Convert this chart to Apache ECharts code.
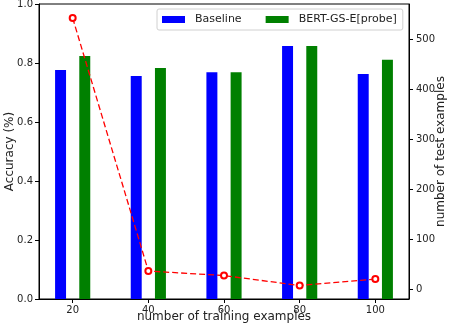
<!DOCTYPE html>
<html><head><meta charset="utf-8">
<script src="https://cdn.jsdelivr.net/npm/echarts@6/dist/echarts.min.js"></script>
<style>html,body{margin:0;padding:0;background:#fff}#c{width:450px;height:330px}</style>
</head><body><div id="c"></div>
<script>
const trainSizes = [20, 40, 60, 80, 100];
const baselineAcc = [0.776, 0.756, 0.769, 0.858, 0.763];
const bertAcc = [0.824, 0.783, 0.769, 0.858, 0.811];
const testCounts = [543, 36, 27, 7, 20];
const leftTicks = [0, 0.2, 0.4, 0.6, 0.8, 1.0];
const rightTicks = [0, 100, 200, 300, 400, 500];
const xTicks = [20, 40, 60, 80, 100];

const FONT = 'DejaVu Sans';
function barSeries(name, vals, color, off) {
  return {
    name, type: 'custom', xAxisIndex: 0, yAxisIndex: 0,
    data: trainSizes.map((x, i) => [x, vals[i]]),
    itemStyle: { color },
    renderItem(params, api) {
      const x = api.value(0), y = api.value(1), w = 2.9;
      const p0 = api.coord([x + off - w / 2, y]);
      const p1 = api.coord([x + off + w / 2, 0]);
      return { type: 'rect', shape: { x: p0[0], y: p0[1], width: p1[0] - p0[0], height: p1[1] - p0[1] }, style: { fill: color } };
    }
  };
}
const chart = echarts.init(document.getElementById('c'));
const axisCommon = {
  nameMoveOverlap: false,
  axisLine: { show: true, lineStyle: { color: '#000', width: 1 } },
  axisTick: { show: true, inside: false, length: 4, lineStyle: { color: '#000' } },
  splitLine: { show: false },
  axisLabel: { color: '#222', fontFamily: FONT, fontSize: 10, margin: 6 },
  nameTextStyle: { color: '#222', fontFamily: FONT, fontSize: 12 }
};
chart.setOption({
  animation: false,
  grid: { left: 39, right: 41, top: 4, bottom: 31, show: true, borderColor: '#000', borderWidth: 1, containLabel: false, outerBoundsMode: 'none' },
  legend: {
    data: [{ name: 'Baseline' }, { name: 'BERT-GS-E[probe]' }],
    icon: 'rect', itemWidth: 23, itemHeight: 7, itemGap: 24,
    left: 157, top: 9,
    borderColor: '#d0d0d0', borderWidth: 1, borderRadius: 2, padding: [4, 6, 4, 5],
    textStyle: { fontFamily: FONT, fontSize: 11, color: '#222', lineHeight: 13, padding: [0, 0, 0, 5] }
  },
  xAxis: {
    type: 'value', min: 11.1, max: 108.9,
    name: 'number of training examples', nameLocation: 'middle', nameGap: 12,
    ...axisCommon,
    axisTick: { ...axisCommon.axisTick, customValues: xTicks },
    axisLabel: { ...axisCommon.axisLabel, customValues: xTicks, margin: 6 }
  },
  yAxis: [{
    type: 'value', min: 0, max: 1, interval: 0.2, position: 'left',
    name: 'Accuracy (%)', nameLocation: 'middle', nameGap: 23, nameRotate: 90,
    ...axisCommon,
    axisTick: { ...axisCommon.axisTick, customValues: leftTicks },
    axisLabel: { ...axisCommon.axisLabel, customValues: leftTicks, formatter: v => v.toFixed(1) }
  }, {
    type: 'value', min: -20, max: 571, position: 'right',
    name: 'number of test examples', nameLocation: 'middle', nameGap: 26, nameRotate: 90,
    ...axisCommon,
    axisTick: { ...axisCommon.axisTick, customValues: rightTicks },
    axisLabel: { ...axisCommon.axisLabel, customValues: rightTicks, margin: 7 }
  }],
  series: [
    barSeries('Baseline', baselineAcc, '#0000ff', -3.2),
    barSeries('BERT-GS-E[probe]', bertAcc, '#008000', 3.2),
    {
      type: 'line', xAxisIndex: 0, yAxisIndex: 1,
      data: trainSizes.map((x, i) => [x, testCounts[i]]),
      lineStyle: { color: '#ff0000', width: 1.3, type: [6, 3] },
      symbol: 'emptyCircle', symbolSize: 6,
      itemStyle: { color: '#ff0000', borderColor: '#ff0000', borderWidth: 1 },
      z: 5
    }
  ]
});
</script></body></html>
